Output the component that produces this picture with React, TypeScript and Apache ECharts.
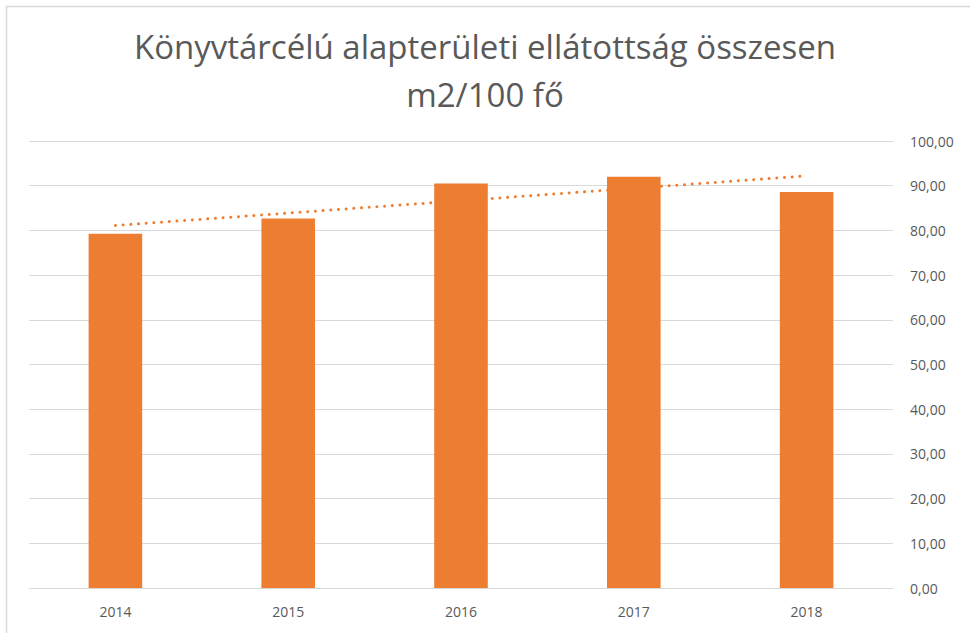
import React, { useEffect, useRef } from "react";
import * as echarts from "echarts";

const categories = ["2014", "2015", "2016", "2017", "2018"];
const barValues = [79.25, 82.65, 90.5, 92.0, 88.6];
const trendPoints: [number, number][] = [
  [0, 81.1],
  [4, 92.2],
];
const titleLines = ["Könyvtárcélú alapterületi ellátottság összesen", "m2/100 fő"];

export default function App() {
  const ref = useRef<HTMLDivElement>(null);
  useEffect(() => {
    document.body.style.margin = "0";
    const chart = echarts.init(ref.current!, undefined, { renderer: "svg" });
    chart.setOption({
      animation: false,
      backgroundColor: "#ffffff",
      title: {
        text: titleLines.join("\n"),
        left: "center",
        top: 17,
        textStyle: {
          fontFamily: "Open Sans",
          fontSize: 33,
          fontWeight: "normal",
          color: "#595959",
          lineHeight: 48,
        },
      },
      graphic: [
        {
          type: "rect",
          shape: { x: 6.5, y: 6.5, width: 990, height: 650 },
          style: { fill: "none", stroke: "#d9d9d9", lineWidth: 1.5 },
          silent: true,
        },
      ],
      grid: { left: 29, right: 77, top: 141, bottom: 45 },
      xAxis: {
        type: "category",
        data: categories,
        axisLine: { lineStyle: { color: "#d9d9d9", width: 1 } },
        axisTick: { show: false },
        axisLabel: {
          color: "#595959",
          fontFamily: "Open Sans",
          fontSize: 14,
          margin: 16,
        },
      },
      yAxis: {
        type: "value",
        position: "right",
        min: 0,
        max: 100,
        interval: 10,
        axisLine: { show: false },
        axisTick: { show: false },
        splitLine: { lineStyle: { color: "#d9d9d9", width: 1 } },
        axisLabel: {
          color: "#595959",
          fontFamily: "Open Sans",
          fontSize: 14,
          margin: 17,
          formatter: (v: number) => v.toFixed(2).replace(".", ","),
        },
      },
      series: [
        {
          type: "bar",
          data: barValues,
          barWidth: "31%",
          itemStyle: { color: "#ED7D31" },
        },
        {
          type: "line",
          data: trendPoints,
          symbol: "none",
          lineStyle: {
            color: "#ED7D31",
            width: 3,
            type: [0.01, 7.7],
            cap: "round",
          },
          z: 3,
        },
      ],
    });
    return () => chart.dispose();
  }, []);
  return <div ref={ref} style={{ width: 970, height: 633 }} />;
}
